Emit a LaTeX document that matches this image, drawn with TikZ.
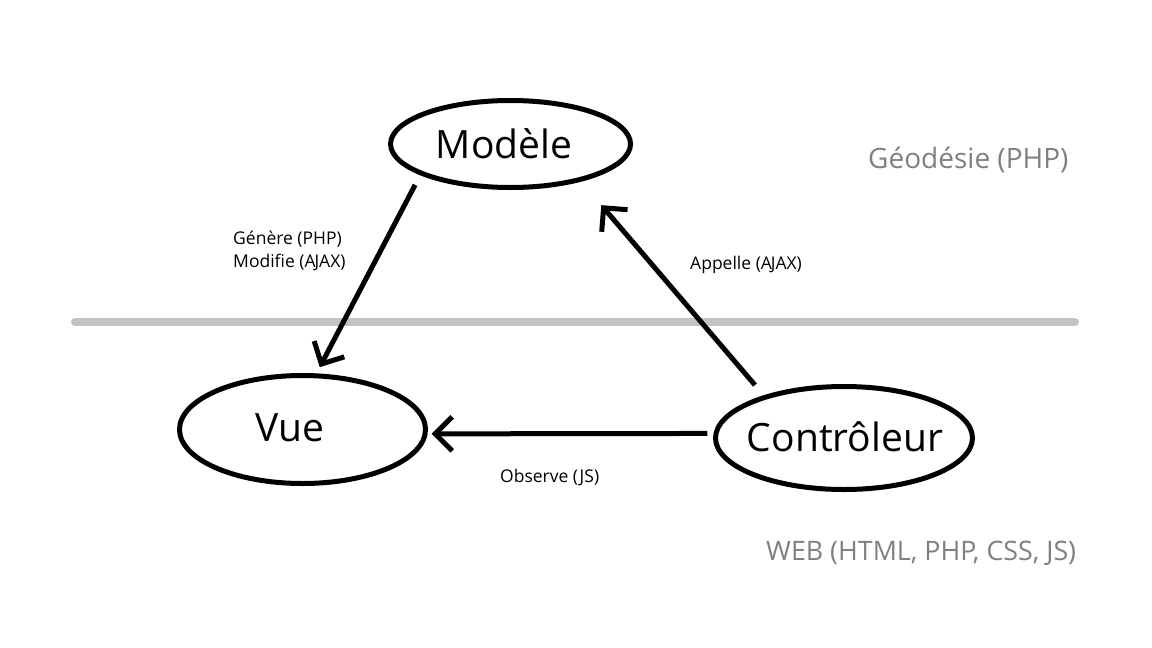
\documentclass[tikz,border=0pt]{standalone}
\usepackage{fontspec}
\setmainfont{Open Sans}
\usetikzlibrary{arrows.meta,shapes.geometric}
\definecolor{txtgray}{RGB}{128,128,128}
\definecolor{linegray}{RGB}{195,195,195}
\newcommand{\ajax}{A\kern-1.2pt JAX}
\tikzset{
  bubble/.style={ellipse, draw=black, line width=5pt, inner sep=0pt},
  bigtext/.style={font=\fontsize{39}{46}\selectfont},
  smalltext/.style={font=\fontsize{17.5}{23.5}\selectfont, inner sep=0pt},
  graytext/.style={font=\fontsize{28}{34}\selectfont, text=txtgray, inner sep=0pt},
  arrowline/.style={line width=5pt, -{Straight Barb[length=17pt, width=34pt, line width=5pt]}},
}
\begin{document}
\begin{tikzpicture}[x=1pt, y=-1pt]
\useasboundingbox (0,0) rectangle (1152,648);
\fill[white] (0,0) rectangle (1152,648);
% separator
\draw[linegray, line width=8pt, line cap=round] (75,322) -- (1075,322);
% ellipses
\node[bubble, minimum width=240pt, minimum height=87pt] (modele) at (510.5,144) {};
\node[bigtext, inner sep=0pt] (modeletxt) at (504,144) {Modèle};
\node[bubble, minimum width=246pt, minimum height=108pt] (vue) at (302.5,429.5) {};
\node[bigtext, inner sep=0pt] (vuetxt) at (290,428) {Vue};
\node[bubble, minimum width=257pt, minimum height=103pt] (ctrl) at (844,438) {};
\node[bigtext, inner sep=0pt] (ctrltxt) at (845,437) {Contrôleur};
% arrows
\draw[arrowline, shorten <=11pt, shorten >=7pt] (modele.199) -- (vue.76);
\draw[arrowline, shorten <=13.5pt, shorten >=31pt] (ctrl.152) -- (modele.332);
\draw[arrowline, shorten <=6pt, shorten >=4pt] (ctrl.178) -- (vue.358);
% labels
\node[smalltext, align=left, anchor=west] (lgen) at (233,251) {Génère (PHP)\\Modifie (\ajax)};
\node[smalltext, anchor=base west] (lapp) at (690,269) {Appelle (\ajax)};
\node[smalltext, anchor=base west] (lobs) at (500,482) {Observe (JS)};
\node[graytext, anchor=base west] (lgeo) at (868,168) {Géodésie (PHP)};
\node[graytext, font=\fontsize{26.8}{32}\selectfont, anchor=base west] (lweb) at (766,560) {WEB (HTML, PHP, CSS, JS)};
\end{tikzpicture}
\end{document}
